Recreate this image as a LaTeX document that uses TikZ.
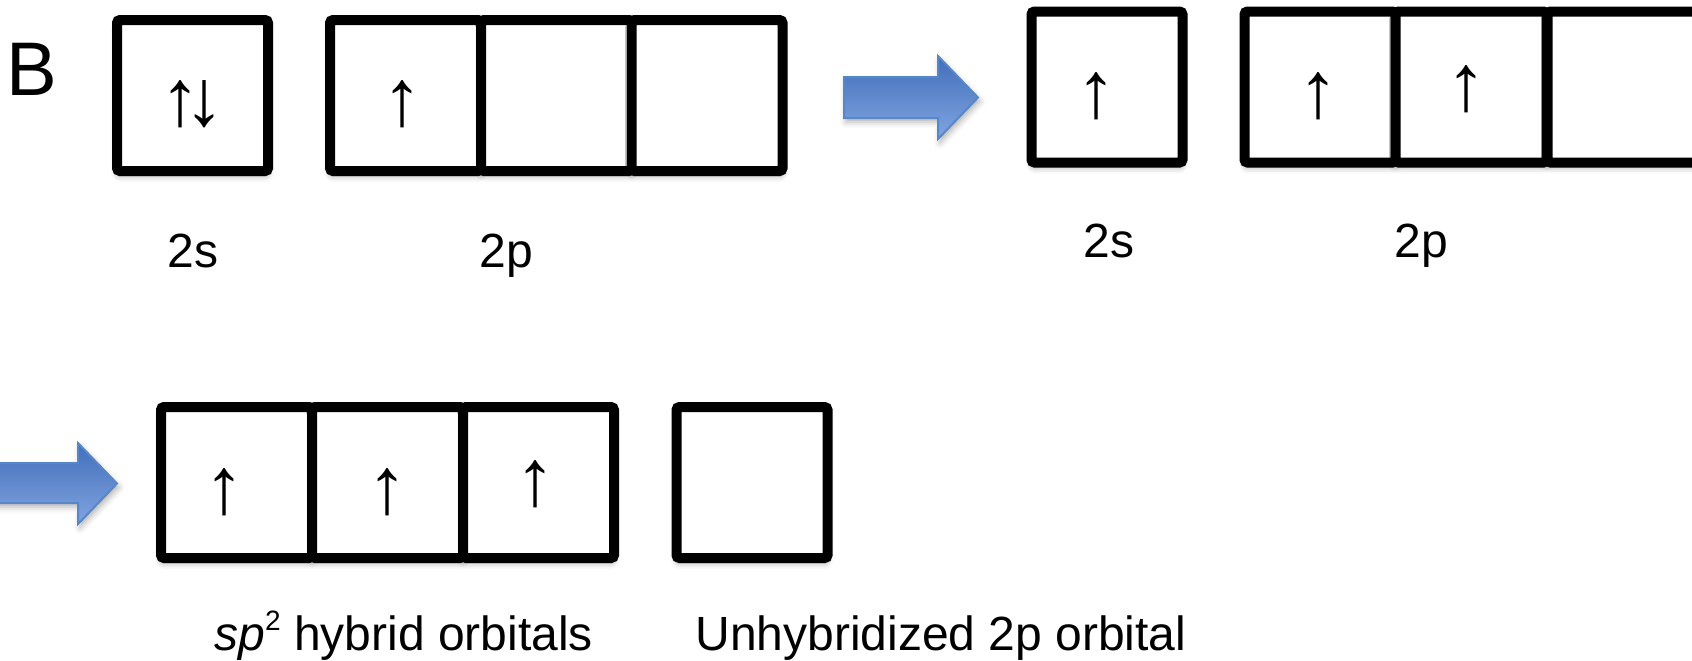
\documentclass[tikz,border=0pt]{standalone}
\usepackage{fontspec}
\setmainfont{Liberation Sans}
\usetikzlibrary{shadows.blur}
\definecolor{arrowedge}{RGB}{86,135,200}
\definecolor{arrowtop}{RGB}{66,110,186}
\definecolor{arrowbot}{RGB}{128,165,224}

\begin{document}
\begin{tikzpicture}[x=0.5pt,y=-0.5pt,
  cell/.style={draw=black, line width=5pt, fill=white, rounded corners=1.5pt,
    minimum width=75.5pt, minimum height=75.5pt, inner sep=0pt, outer sep=0pt,
    blur shadow={shadow xshift=0pt, shadow yshift=-2.5pt, shadow blur radius=3pt, shadow opacity=35}},
  spin/.style={font=\fontsize{40}{40}\selectfont, inner sep=0pt},
  lbl/.style={font=\fontsize{24}{24}\selectfont, inner sep=0pt, anchor=base west},
  elem/.style={font=\fontsize{38}{38}\selectfont, inner sep=0pt, anchor=base west},
  bluearrow/.style={draw=arrowedge, line width=1pt, top color=arrowtop, bottom color=arrowbot,
    blur shadow={shadow xshift=1pt, shadow yshift=-2pt, shadow blur radius=3pt, shadow opacity=30}}
]
\useasboundingbox (0,0) rectangle (1692,660);

% element symbol
\node[elem] (elem) at (6,95) {B};

% ground state: 2s and 2p boxes
\node[cell] (gs) at (192.5,95.5) {};
\node[cell] (gp1) at (405.5,95.5) {};
\node[cell] (gp2) at (556.5,95.5) {};
\node[cell] (gp3) at (707,95.5) {};
\node[spin] (gsu) at (180,104) {↑};
\node[spin] (gsd) at (204,104) {↓};
\node[spin] (gpe) at (402,104) {↑};
\node[lbl] (gsl) at (167,267) {2s};
\node[lbl] (gpl) at (479,267) {2p};

% promotion arrow
\draw[bluearrow] (844,77) -- (938,77) -- (938,56) -- (978,97.5) -- (938,139) -- (938,118) -- (844,118) -- cycle;

% promoted state
\node[cell] (ps) at (1107,87) {};
\node[cell] (pp1) at (1320,87) {};
\node[cell] (pp2) at (1471,87) {};
\node[cell] (pp3) at (1623,87) {};
\node[spin] (pse) at (1096,96.5) {↑};
\node[spin] (ppe1) at (1318,96.5) {↑};
\node[spin] (ppe2) at (1466,89) {↑};
\node[lbl] (psl) at (1083,257) {2s};
\node[lbl] (ppl) at (1394,257) {2p};

% hybridization arrow
\draw[bluearrow] (-10,463) -- (78,463) -- (78,443) -- (117,483.5) -- (78,524) -- (78,503) -- (-10,503) -- cycle;

% sp2 hybrid set and the leftover p orbital
\node[cell] (h1) at (236.5,482.5) {};
\node[cell] (h2) at (387.5,482.5) {};
\node[cell] (h3) at (538.5,482.5) {};
\node[cell] (up) at (752,482.5) {};
\node[spin] (h1e) at (224,492) {↑};
\node[spin] (h2e) at (387.5,492) {↑};
\node[spin] (h3e) at (535,484) {↑};
\node[lbl] (hl) at (214,650) {\textit{sp}\raisebox{0.4em}{\fontsize{14}{14}\selectfont 2} hybrid orbitals};
\node[lbl] (ul) at (695,650) {Unhybridized 2p orbital};
\end{tikzpicture}
\end{document}
